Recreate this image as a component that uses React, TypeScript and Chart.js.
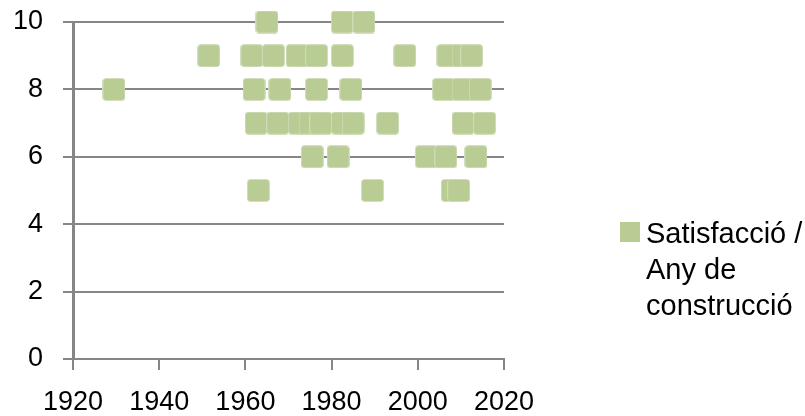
import React, { useEffect, useRef } from 'react';
import { Chart, registerables } from 'chart.js';

Chart.register(...registerables);

// Year of construction and satisfaction score, paired by index
const years = [
  1965, 1982.5, 1987.5,
  1951.5, 1961.5, 1966.5, 1972, 1976.5, 1982.5, 1997, 2007, 2010.5, 2012.5,
  1929.5, 1962, 1968, 1976.5, 1984.5, 2006, 2010.5, 2014.5,
  1962.5, 1967.5, 1972.5, 1975, 1977.5, 1982.5, 1985, 1993, 2010.5, 2015.5,
  1975.5, 1981.5, 2002, 2006.5, 2013.5,
  1963, 1989.5, 2008, 2009.5,
];
const satisfaction = [
  10, 10, 10,
  9, 9, 9, 9, 9, 9, 9, 9, 9, 9,
  8, 8, 8, 8, 8, 8, 8, 8,
  7, 7, 7, 7, 7, 7, 7, 7, 7, 7,
  6, 6, 6, 6, 6,
  5, 5, 5, 5,
];
const xTicks = [1920, 1940, 1960, 1980, 2000, 2020];
const yTicks = [0, 2, 4, 6, 8, 10];
const seriesLabel = ['Satisfacció /', 'Any de', 'construcció'];

const GREEN = '#B8CC94';
const GRID = '#868686';
const FONT = '"Liberation Sans", Arial, sans-serif';

function makeMarker(): HTMLCanvasElement {
  const c = document.createElement('canvas');
  c.width = 23;
  c.height = 23;
  const ctx = c.getContext('2d')!;
  ctx.fillStyle = GREEN;
  ctx.beginPath();
  (ctx as any).roundRect(0.5, 0.5, 22, 22, 3);
  ctx.fill();
  ctx.strokeStyle = 'rgba(210,222,188,0.9)';
  ctx.lineWidth = 1;
  ctx.stroke();
  return c;
}

export default function App() {
  const ref = useRef<HTMLCanvasElement | null>(null);

  useEffect(() => {
    if (!ref.current) return;
    const marker = makeMarker();
    const legendPlugin = {
      id: 'customLegend',
      afterDraw(chart: any) {
        const ctx = chart.ctx;
        ctx.save();
        ctx.fillStyle = GREEN;
        ctx.fillRect(620, 222, 20, 20);
        ctx.fillStyle = '#000';
        ctx.font = `29px ${FONT}`;
        ctx.textBaseline = 'alphabetic';
        ctx.textAlign = 'left';
        const baselines = [243, 279, 315];
        seriesLabel.forEach((t, i) => ctx.fillText(t, 646, baselines[i]));
        ctx.restore();
      },
    };
    const chart = new Chart(ref.current, {
      type: 'scatter',
      data: {
        datasets: [
          {
            label: seriesLabel.join(' '),
            data: years.map((x, i) => ({ x, y: satisfaction[i] })),
            pointStyle: marker as any,
            pointRadius: 11,
            pointHoverRadius: 11,
            backgroundColor: GREEN,
            borderColor: GREEN,
            clip: false as any,
          },
        ],
      },
      options: {
        responsive: false,
        animation: false,
        events: [],
        layout: { autoPadding: false, padding: { top: 22, right: 301, left: 0, bottom: 0 } },
        plugins: {
          legend: { display: false },
          tooltip: { enabled: false },
        },
        scales: {
          x: {
            type: 'linear',
            min: 1920,
            max: 2020,
            afterBuildTicks: (s: any) => {
              s.ticks = xTicks.map((v) => ({ value: v }));
            },
            afterFit: (s: any) => {
              s.height = 57;
              s.paddingLeft = 0;
              s.paddingRight = 0;
            },
            ticks: {
              font: { family: FONT, size: 27 },
              color: '#000',
              padding: 16,
              maxRotation: 0,
              autoSkip: false,
              callback: (v: any) => String(v),
            },
            grid: {
              drawOnChartArea: false,
              drawTicks: true,
              tickLength: 11,
              color: GRID,
              lineWidth: 2,
            },
            border: { display: true, color: GRID, width: 2 },
          },
          y: {
            type: 'linear',
            min: 0,
            max: 10,
            afterBuildTicks: (s: any) => {
              s.ticks = yTicks.map((v) => ({ value: v }));
            },
            afterFit: (s: any) => {
              s.width = 73;
              s.paddingTop = 0;
              s.paddingBottom = 0;
            },
            ticks: {
              font: { family: FONT, size: 27 },
              color: '#000',
              padding: 20,
              callback: (v: any) => String(v),
            },
            grid: {
              drawOnChartArea: true,
              drawTicks: true,
              tickLength: 10,
              color: GRID,
              lineWidth: 2,
            },
            border: { display: true, color: GRID, width: 3 },
          },
        },
      },
      plugins: [legendPlugin],
    });
    return () => chart.destroy();
  }, []);

  return (
    <div style={{ position: 'absolute', left: 0, top: 0, width: 805, height: 416, background: '#fff' }}>
      <canvas ref={ref} width={805} height={416} style={{ display: 'block' }} />
    </div>
  );
}
